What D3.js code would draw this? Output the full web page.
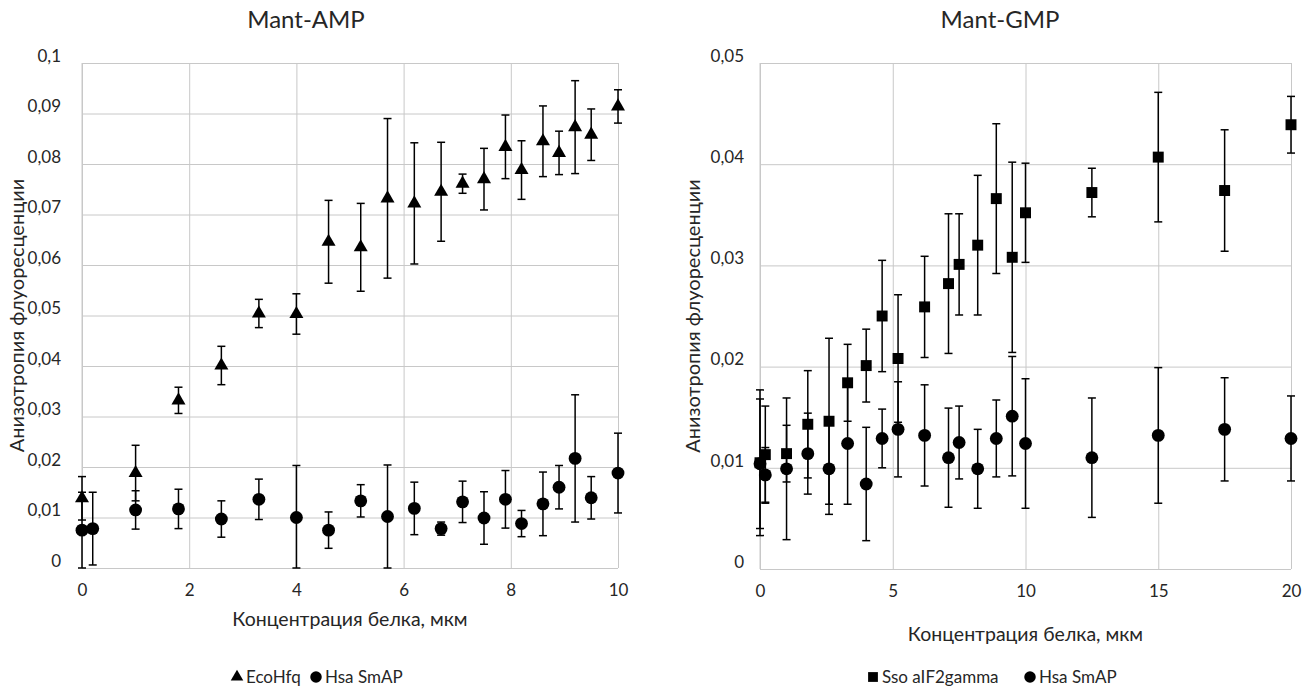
<!DOCTYPE html>
<html>
<head>
<meta charset="utf-8">
<script src="https://cdn.jsdelivr.net/npm/d3@7"></script>
<style>
  body { margin: 0; background: #fff; }
  text { font-family: Lato, "Open Sans", sans-serif; fill: #262626; }
  .grid line { stroke: #c8c8c8; stroke-width: 1; }
  .grid path { display: none; }
  .axis path, .axis line { display: none; }
</style>
</head>
<body>
<div id="chart"></div>
<script>
// Mant-AMP data
var ampX = [0, 0.2, 1, 1.8, 2.6, 3.3, 4, 4.6, 5.2, 5.7, 6.2, 6.7, 7.1, 7.5, 7.9, 8.2, 8.6, 8.9, 9.2, 9.5, 10];
var hfqY = [0.0138, null, 0.0188, 0.0332, 0.0401, 0.0504, 0.0503, 0.0646, 0.0635, 0.0732, 0.0722, 0.0745, 0.0761, 0.0770, 0.0834, 0.0788, 0.0845, 0.0822, 0.0873, 0.0858, 0.0914];
var hfqErr = [0.0043, null, 0.0055, 0.0026, 0.0038, 0.0028, 0.0040, 0.0082, 0.0087, 0.0158, 0.0120, 0.0098, 0.0019, 0.0061, 0.0063, 0.0058, 0.0070, 0.0043, 0.0092, 0.0051, 0.0033];
var smapAY = [0.0075, 0.0078, 0.0115, 0.0117, 0.0097, 0.0136, 0.0100, 0.0075, 0.0133, 0.0102, 0.0118, 0.0078, 0.0131, 0.0099, 0.0136, 0.0088, 0.0127, 0.0160, 0.0217, 0.0139, 0.0188];
var smapAErr = [0.0075, 0.0072, 0.0038, 0.0039, 0.0036, 0.0040, 0.0103, 0.0036, 0.0032, 0.0102, 0.0052, 0.0013, 0.0041, 0.0052, 0.0057, 0.0026, 0.0063, 0.0043, 0.0126, 0.0042, 0.0079];

// Mant-GMP data
var gmpX = [0, 0.2, 1, 1.8, 2.6, 3.3, 4, 4.6, 5.2, 6.2, 7.1, 7.5, 8.2, 8.9, 9.5, 10, 12.5, 15, 17.5, 20];
var aifY = [0.0105, 0.0113, 0.0114, 0.0143, 0.0146, 0.0184, 0.0201, 0.0250, 0.0208, 0.0259, 0.0282, 0.0301, 0.0320, 0.0366, 0.0308, 0.0352, 0.0372, 0.0407, 0.0374, 0.0439];
var aifErr = [0.0072, 0.0048, 0.0028, 0.0053, 0.0082, 0.0038, 0.0036, 0.0055, 0.0063, 0.0050, 0.0069, 0.0050, 0.0069, 0.0074, 0.0094, 0.0049, 0.0024, 0.0064, 0.0060, 0.0028];
var smapGY = [0.0104, 0.0093, 0.0099, 0.0114, 0.0099, 0.0124, 0.0084, 0.0129, 0.0138, 0.0132, 0.0110, 0.0125, 0.0099, 0.0129, 0.0151, 0.0124, 0.0110, 0.0132, 0.0138, 0.0129];
var smapGErr = [0.0064, 0.0027, 0.0070, 0.0040, 0.0045, 0.0060, 0.0056, 0.0029, 0.0047, 0.0050, 0.0049, 0.0036, 0.0039, 0.0038, 0.0059, 0.0064, 0.0059, 0.0067, 0.0051, 0.0042];

var ampYTicks = [0, 0.01, 0.02, 0.03, 0.04, 0.05, 0.06, 0.07, 0.08, 0.09, 0.1];
var ampXTicks = [0, 2, 4, 6, 8, 10];
var gmpYTicks = [0, 0.01, 0.02, 0.03, 0.04, 0.05];
var gmpXTicks = [0, 5, 10, 15, 20];

var W = 1311, H = 688;
var svg = d3.select("#chart").append("svg").attr("width", W).attr("height", H);

var comma = d => d === 0 ? "0" : String(+d.toFixed(3)).replace(".", ",");

function panel(opt) {
  var x = d3.scaleLinear().domain(opt.xDom).range([opt.left, opt.right]);
  var y = d3.scaleLinear().domain(opt.yDom).range([opt.bottom, opt.top]);
  var g = svg.append("g");

  // gridlines
  g.append("g").attr("class", "grid")
    .attr("transform", `translate(0,${opt.bottom})`)
    .call(d3.axisBottom(x).tickValues(opt.xTicks).tickSize(-(opt.bottom - opt.top)).tickFormat(""));
  g.append("g").attr("class", "grid")
    .attr("transform", `translate(${opt.left},0)`)
    .call(d3.axisLeft(y).tickValues(opt.yTicks).tickSize(-(opt.right - opt.left)).tickFormat(""));
  g.append("line")
    .attr("x1", opt.left).attr("x2", opt.left)
    .attr("y1", opt.top).attr("y2", opt.bottom)
    .attr("stroke", "#c8c8c8");

  // axis labels
  var xa = g.append("g").attr("class", "axis")
    .attr("transform", `translate(0,${opt.bottom})`)
    .call(d3.axisBottom(x).tickValues(opt.xTicks).tickSize(0).tickPadding(16).tickFormat(d3.format("d")));
  xa.selectAll("text").style("font-size", "17px");
  var ya = g.append("g").attr("class", "axis")
    .attr("transform", `translate(${opt.left},0)`)
    .call(d3.axisLeft(y).tickValues(opt.yTicks).tickSize(0).tickPadding(opt.yPad).tickFormat(comma));
  ya.selectAll("text").style("font-size", "17px").attr("dy", "-0.1em");

  g.append("text")
    .attr("x", opt.titleX).attr("y", 28)
    .attr("text-anchor", "middle")
    .style("font-size", "24px")
    .text(opt.title);

  g.append("text")
    .attr("transform", `translate(${opt.yLabX},${(opt.top + opt.bottom) / 2}) rotate(-90)`)
    .attr("text-anchor", "middle")
    .attr("dy", "0.35em")
    .style("font-size", "20px")
    .text("Анизотропия флуоресценции");

  g.append("text")
    .attr("x", (opt.left + opt.right) / 2).attr("y", opt.xLabY)
    .attr("text-anchor", "middle")
    .style("font-size", "19.5px")
    .text("Концентрация белка, мкм");

  // series
  opt.series.forEach(s => {
    var pts = opt.xs.map((v, i) => ({ x: v, y: s.ys[i], e: s.errs[i] })).filter(d => d.y != null);
    var eb = g.append("g").attr("stroke", "#000").attr("stroke-width", 1.5);
    pts.forEach(d => {
      var px = x(d.x);
      var lo = y(Math.max(0, d.y - d.e)), hi = y(d.y + d.e);
      eb.append("line").attr("x1", px).attr("x2", px).attr("y1", lo).attr("y2", hi);
      eb.append("line").attr("x1", px - 4).attr("x2", px + 4).attr("y1", lo).attr("y2", lo);
      eb.append("line").attr("x1", px - 4).attr("x2", px + 4).attr("y1", hi).attr("y2", hi);
    });
    g.append("g").selectAll("path").data(pts).enter().append("path")
      .attr("transform", d => `translate(${x(d.x)},${y(d.y)})`)
      .attr("d", d3.symbol().type(s.symbol).size(s.size))
      .attr("fill", "#000");
  });

  // legend
  var lg = g.append("g").attr("transform", `translate(0,${opt.legY})`);
  opt.series.forEach((s, i) => {
    var lx = opt.legX[i];
    lg.append("path")
      .attr("transform", `translate(${lx},0)`)
      .attr("d", d3.symbol().type(s.symbol).size(s.size * 0.8))
      .attr("fill", "#000");
    lg.append("text")
      .attr("x", lx + 9).attr("y", 0).attr("dy", "0.35em")
      .style("font-size", "17px")
      .text(s.name);
  });
}

panel({
  left: 82, right: 618, top: 63, bottom: 568,
  xDom: [0, 10], yDom: [0, 0.1],
  xTicks: ampXTicks, yTicks: ampYTicks, yPad: 21,
  title: "Mant-AMP", titleX: 306, yLabX: 17, xLabY: 626,
  xs: ampX,
  legX: [237, 316], legY: 677,
  series: [
    { name: "EcoHfq", ys: hfqY, errs: hfqErr, symbol: d3.symbolTriangle, size: 85 },
    { name: "Hsa SmAP", ys: smapAY, errs: smapAErr, symbol: d3.symbolCircle, size: 130 }
  ]
});

panel({
  left: 760, right: 1291, top: 63, bottom: 569,
  xDom: [0, 20], yDom: [0, 0.05],
  xTicks: gmpXTicks, yTicks: gmpYTicks, yPad: 16,
  title: "Mant-GMP", titleX: 1000, yLabX: 693, xLabY: 641,
  xs: gmpX,
  legX: [873, 1030], legY: 677,
  series: [
    { name: "Sso aIF2gamma", ys: aifY, errs: aifErr, symbol: d3.symbolSquare, size: 120 },
    { name: "Hsa SmAP", ys: smapGY, errs: smapGErr, symbol: d3.symbolCircle, size: 130 }
  ]
});
</script>
</body>
</html>
